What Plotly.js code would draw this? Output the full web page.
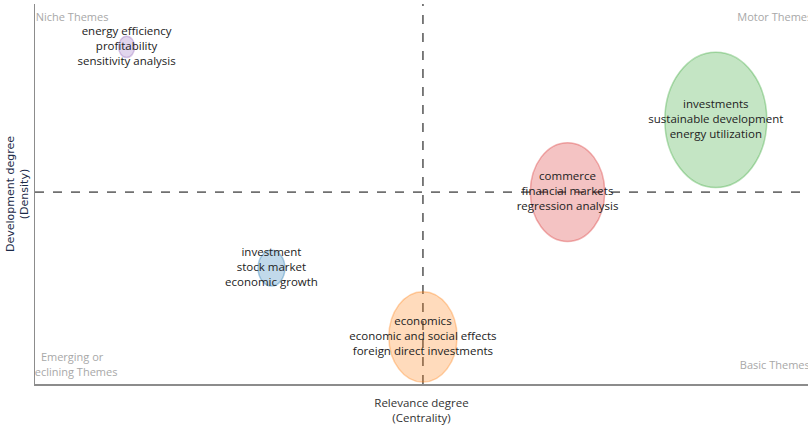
<!DOCTYPE html>
<html>
<head>
<meta charset="utf-8">
<script src="https://cdn.plot.ly/plotly-3.0.1.min.js"></script>
<style>
  html, body { margin: 0; padding: 0; background: #fff; }
  #map { width: 808px; height: 428px; }
</style>
</head>
<body>
<div id="map"></div>
<script>
// thematic map clusters
const clusterLabels = [
    ['energy efficiency', 'profitability', 'sensitivity analysis'],
    ['investment', 'stock market', 'economic growth'],
    ['economics', 'economic and social effects', 'foreign direct investments'],
    ['commerce', 'financial markets', 'regression analysis'],
    ['investments', 'sustainable development', 'energy utilization']
];
const centrality = [0.32, 0.826, 1.355, 1.86, 2.378];
const density = [0.887, 0.305, 0.124, 0.505, 0.695];
const bubbleSize = [0.028, 0.047, 0.119, 0.13, 0.178];
const clusterColors = ['148,103,189', '31,119,180', '255,127,14', '214,39,40', '44,160,44'];

const quadrantLabels = ['Niche Themes', 'Motor Themes', 'Emerging or<br>Declining Themes', 'Basic Themes'];

const xRange = [0, 2.7];
const yRange = [0, 1];

const median = (arr) => {
    const s = [...arr].sort((a, b) => a - b);
    const m = Math.floor(s.length / 2);
    return s.length % 2 ? s[m] : (s[m - 1] + s[m]) / 2;
};
const midCentrality = median(centrality);
const midDensity = median(density);

const xAt = (f) => xRange[0] + f * (xRange[1] - xRange[0]);
const yAt = (f) => yRange[0] + f * (yRange[1] - yRange[0]);

const shapes = centrality.map((cx, i) => ({
    type: 'circle',
    xref: 'x',
    yref: 'y',
    x0: cx - bubbleSize[i],
    x1: cx + bubbleSize[i],
    y0: density[i] - bubbleSize[i],
    y1: density[i] + bubbleSize[i],
    fillcolor: `rgba(${clusterColors[i]},0.28)`,
    line: { color: `rgba(${clusterColors[i]},0.35)`, width: 1.5 },
    layer: 'below'
}));

shapes.push({
    type: 'line', xref: 'x', yref: 'paper',
    x0: midCentrality, x1: midCentrality, y0: 0, y1: 1,
    line: { color: '#707070', width: 1.8, dash: 'dash' },
    layer: 'below'
});
shapes.push({
    type: 'line', xref: 'paper', yref: 'y',
    x0: 0, x1: 1, y0: midDensity, y1: midDensity,
    line: { color: '#707070', width: 1.8, dash: 'dash' },
    layer: 'below'
});

const labelTrace = {
    x: centrality,
    y: density,
    mode: 'text',
    text: clusterLabels.map((l) => l.join('<br>')),
    textposition: 'middle center',
    textfont: { family: 'Open Sans', size: 11.5, color: '#222' },
    hoverinfo: 'none',
    cliponaxis: true,
    showlegend: false
};

const quadrantTrace = {
    x: [xAt(0.048), xAt(0.957), xAt(0.048), xAt(0.957)],
    y: [yAt(0.962), yAt(0.962), yAt(0.048), yAt(0.047)],
    mode: 'text',
    text: quadrantLabels,
    textposition: 'middle center',
    textfont: { family: 'Open Sans', size: 11, color: '#a8a8a8' },
    hoverinfo: 'none',
    cliponaxis: true,
    showlegend: false
};

const layout = {
    width: 808,
    height: 428,
    margin: { l: 35, r: 0, t: 4, b: 44 },
    paper_bgcolor: '#fff',
    plot_bgcolor: '#fff',
    showlegend: false,
    shapes: shapes,
    xaxis: {
        range: xRange,
        showgrid: false,
        zeroline: false,
        showticklabels: false,
        ticks: '',
        showline: true,
        linecolor: '#8c8c8c',
        linewidth: 1.5,
        title: {
            text: 'Relevance degree<br>(Centrality)',
            font: { family: 'Open Sans', size: 11.5, color: '#333' },
            standoff: 14
        }
    },
    yaxis: {
        range: yRange,
        showgrid: false,
        zeroline: false,
        showticklabels: false,
        ticks: '',
        showline: true,
        linecolor: '#8c8c8c',
        linewidth: 1.5,
        title: {
            text: 'Development degree<br>(Density)',
            font: { family: 'DejaVu Sans', size: 11, color: '#1c2a48' },
            standoff: 2
        }
    }
};

Plotly.newPlot('map', [labelTrace, quadrantTrace], layout, { displayModeBar: false, staticPlot: true });
</script>
</body>
</html>
